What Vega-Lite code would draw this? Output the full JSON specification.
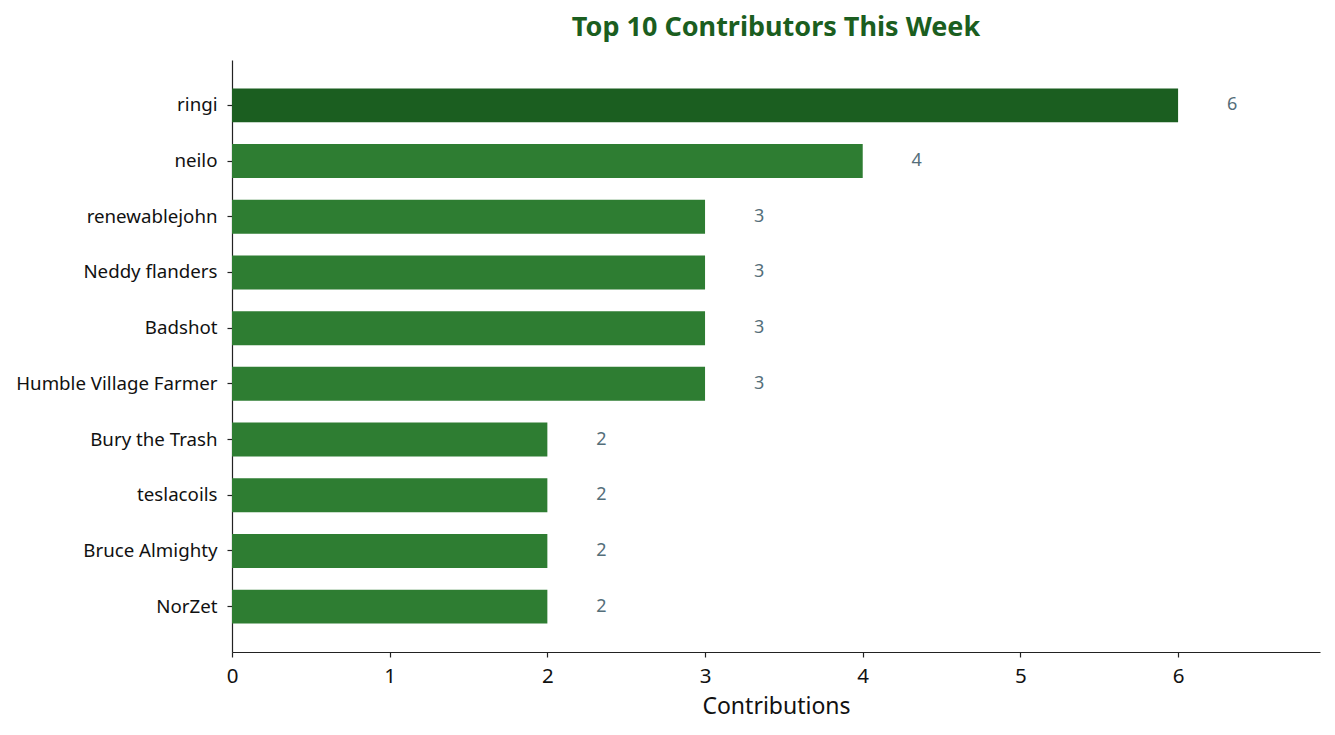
{
  "$schema": "https://vega.github.io/schema/vega-lite/v6.json",
  "width": 1088,
  "height": 592,
  "autosize": "none",
  "padding": {"left": 232, "top": 60, "right": 15, "bottom": 83},
  "background": "white",
  "config": {
    "view": {"stroke": null},
    "font": "Noto Sans"
  },
  "title": {
    "text": "Top 10 Contributors This Week",
    "font": "Noto Sans",
    "fontSize": 27,
    "fontWeight": "bold",
    "color": "#1b5e20",
    "anchor": "middle",
    "offset": 18
  },
  "data": {
    "values": [
      {"name": "ringi", "count": 6, "top": "yes"},
      {"name": "neilo", "count": 4, "top": "no"},
      {"name": "renewablejohn", "count": 3, "top": "no"},
      {"name": "Neddy flanders", "count": 3, "top": "no"},
      {"name": "Badshot", "count": 3, "top": "no"},
      {"name": "Humble Village Farmer", "count": 3, "top": "no"},
      {"name": "Bury the Trash", "count": 2, "top": "no"},
      {"name": "teslacoils", "count": 2, "top": "no"},
      {"name": "Bruce Almighty", "count": 2, "top": "no"},
      {"name": "NorZet", "count": 2, "top": "no"}
    ]
  },
  "encoding": {
    "y": {
      "field": "name",
      "type": "nominal",
      "sort": null,
      "scale": {"paddingInner": 0.39, "paddingOuter": 0.51},
      "axis": {
        "title": null,
        "domainColor": "#222222",
        "domainWidth": 1.2,
        "tickColor": "#222222",
        "tickSize": 5,
        "tickWidth": 1.2,
        "labelFont": "Noto Sans",
        "labelFontSize": 18.7,
        "labelColor": "#111111",
        "labelPadding": 10,
        "labelLimit": 0,
        "grid": false
      }
    }
  },
  "layer": [
    {
      "mark": {"type": "bar"},
      "encoding": {
        "x": {
          "field": "count",
          "type": "quantitative",
          "scale": {"domain": [0, 6.9], "nice": false},
          "axis": {
            "title": "Contributions",
            "titleFont": "Noto Sans",
            "titleFontSize": 23,
            "titleFontWeight": "normal",
            "titleColor": "#111111",
            "titlePadding": 9,
            "values": [0, 1, 2, 3, 4, 5, 6],
            "format": "d",
            "labelFlush": false,
            "domainColor": "#222222",
            "domainWidth": 1.2,
            "tickColor": "#222222",
            "tickSize": 5,
            "tickWidth": 1.2,
            "labelFont": "Noto Sans",
            "labelFontSize": 20.5,
            "labelColor": "#111111",
            "labelPadding": 9,
            "grid": false
          }
        },
        "color": {
          "field": "top",
          "type": "nominal",
          "scale": {"domain": ["yes", "no"], "range": ["#1b5e20", "#2e7d32"]},
          "legend": null
        }
      }
    },
    {
      "mark": {
        "type": "text",
        "align": "center",
        "baseline": "middle",
        "dx": 54,
        "fontSize": 18,
        "font": "Noto Sans",
        "color": "#546e7a"
      },
      "encoding": {
        "x": {"field": "count", "type": "quantitative"},
        "text": {"field": "count", "type": "quantitative"}
      }
    }
  ]
}
